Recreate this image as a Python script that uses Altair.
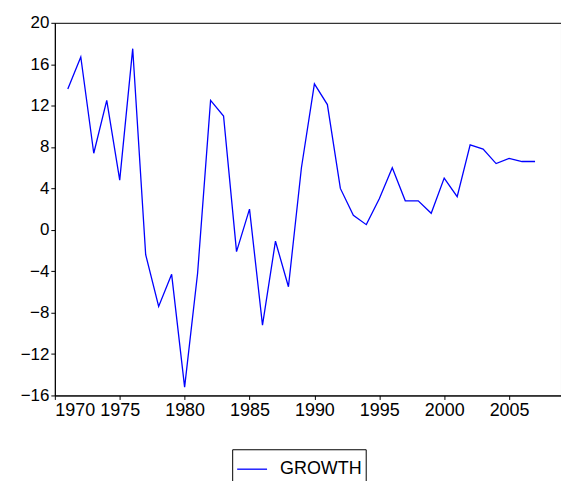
import altair as alt
import pandas as pd

years = list(range(1971, 2008))
growth = [13.6, 16.7, 7.4, 12.5, 4.8, 17.5, -2.4, -7.4, -4.3, -15.2,
          -4.2, 12.5, 11.0, -2.1, 2.0, -9.2, -1.1, -5.5, 6.0, 14.1,
          12.1, 4.0, 1.4, 0.5, 3.0, 6.0, 2.8, 2.8, 1.6, 5.0,
          3.2, 8.2, 7.8, 6.4, 6.9, 6.6, 6.6]

df = pd.DataFrame({"year": years, "value": growth, "series": "GROWTH"})

chart = alt.Chart(df).mark_line(strokeWidth=1.3).encode(
    x=alt.X("year:Q", scale=alt.Scale(domain=[1970, 2009], nice=False),
            axis=alt.Axis(values=list(range(1970, 2010, 5)), format="d", title=None,
                          labelFontSize=18)),
    y=alt.Y("value:Q", scale=alt.Scale(domain=[-16, 20], nice=False),
            axis=alt.Axis(values=list(range(-16, 21, 4)), title=None)),
    color=alt.Color("series:N", scale=alt.Scale(range=["#0000ff"]),
                    legend=alt.Legend(title=None, orient="none", legendX=178, legendY=428,
                                      symbolType="stroke", symbolSize=900, symbolStrokeWidth=1.3,
                                      labelOffset=12, strokeColor="black", padding=4,
                                      labelFontSize=18, labelFont="Liberation Sans",
                                      labelColor="black")),
).properties(
    width=508, height=374,
    padding={"left": 47, "top": 14, "right": 0, "bottom": 85},
    autosize=alt.AutoSizeParams(type="none"),
).configure_view(
    stroke="black", strokeWidth=1
).configure_axis(
    grid=False, domainColor="black", tickColor="black", labelColor="black",
    labelFont="Liberation Sans", labelFontSize=17, tickSize=4,
)

chart.save("out.html", embed_options={"renderer": "svg", "actions": False})
